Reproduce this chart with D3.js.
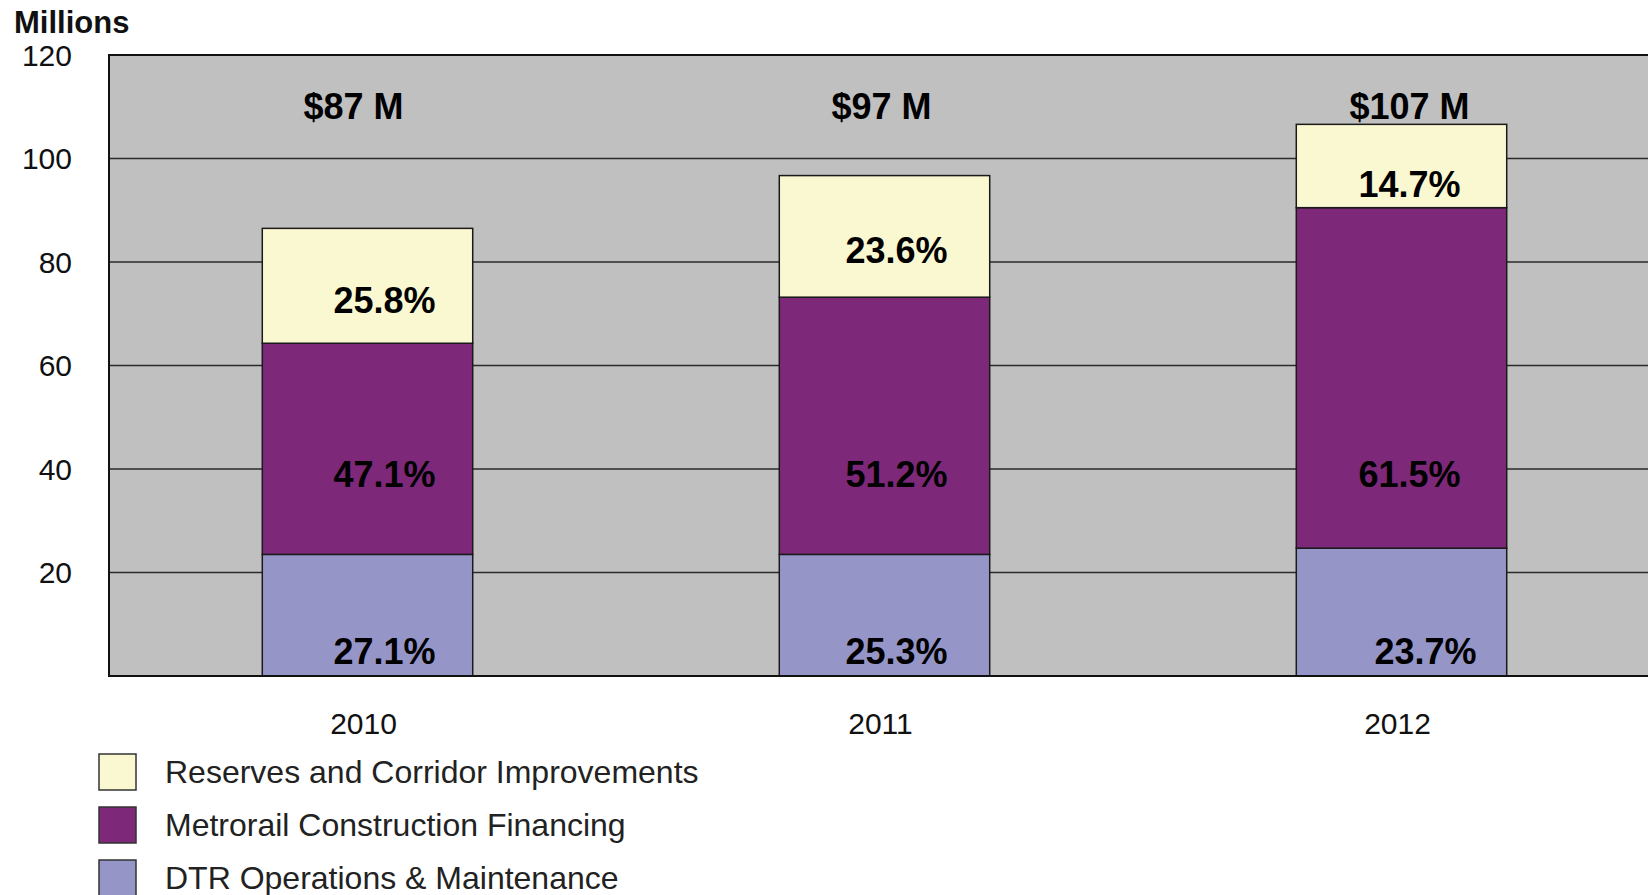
<!DOCTYPE html>
<html>
<head>
<meta charset="utf-8">
<script src="https://cdn.jsdelivr.net/npm/d3@7"></script>
<style>
  body { margin: 0; background: #ffffff; overflow: hidden; }
  svg { display: block; font-family: "Liberation Sans", Arial, sans-serif; }
</style>
</head>
<body>
<div id="chart"></div>
<script>
// Chart data (values in millions of dollars)
const years = ["2010", "2011", "2012"];
const seriesNames = ["DTR Operations & Maintenance", "Metrorail Construction Financing", "Reserves and Corridor Improvements"];
const dtrValues = [23.5, 23.5, 24.7];
const metroValues = [40.8, 49.7, 65.8];
const reserveValues = [22.2, 23.5, 16.1];
const totalLabels = ["$87 M", "$97 M", "$107 M"];
const dtrPct = ["27.1%", "25.3%", "23.7%"];
const metroPct = ["47.1%", "51.2%", "61.5%"];
const reservePct = ["25.8%", "23.6%", "14.7%"];
const yTicks = [20, 40, 60, 80, 100, 120];

const width = 1648;
const height = 895;
const plot = {left: 109, top: 55, right: 1660, bottom: 676};

const colors = ["#9595c8", "#7d2879", "#faf8d0"];

const svg = d3.select("#chart")
    .append("svg")
    .attr("width", width)
    .attr("height", height);

// Scales: one band per year, bars centred in each band
const x = d3.scaleBand()
    .domain(years)
    .range([plot.left, plot.right])
    .paddingInner(0.593)
    .paddingOuter(0.2965);

const y = d3.scaleLinear()
    .domain([0, 120])
    .range([plot.bottom, plot.top]);

// Grey plot background
svg.append("rect")
    .attr("x", plot.left)
    .attr("y", plot.top)
    .attr("width", plot.right - plot.left)
    .attr("height", plot.bottom - plot.top)
    .attr("fill", "#c0c0c0");

// Horizontal gridlines
svg.append("g")
    .selectAll("line")
    .data(yTicks.slice(0, -1))
    .enter()
    .append("line")
    .attr("x1", plot.left)
    .attr("x2", plot.right)
    .attr("y1", d => y(d))
    .attr("y2", d => y(d))
    .attr("stroke", "#2a2a2a")
    .attr("stroke-width", 1.5);

// Stack the three series
const table = years.map((yr, i) => ({
    year: yr,
    dtr: dtrValues[i],
    metro: metroValues[i],
    reserves: reserveValues[i]
}));
const stack = d3.stack().keys(["dtr", "metro", "reserves"]);
const layers = stack(table);

svg.append("g")
    .selectAll("g")
    .data(layers)
    .enter()
    .append("g")
    .attr("fill", (d, i) => colors[i])
    .selectAll("rect")
    .data(d => d)
    .enter()
    .append("rect")
    .attr("x", d => x(d.data.year))
    .attr("width", x.bandwidth())
    .attr("y", d => y(d[1]))
    .attr("height", d => y(d[0]) - y(d[1]))
    .attr("stroke", "#1a1a1a")
    .attr("stroke-width", 1.5);

// Plot frame (left, top, bottom)
svg.append("path")
    .attr("d", `M${plot.right},${plot.top}H${plot.left}V${plot.bottom}H${plot.right}`)
    .attr("fill", "none")
    .attr("stroke", "#111")
    .attr("stroke-width", 2);

// Y tick labels (no label at zero)
svg.append("g")
    .selectAll("text")
    .data(yTicks)
    .enter()
    .append("text")
    .attr("x", 72)
    .attr("y", d => y(d))
    .attr("dy", "0.36em")
    .attr("text-anchor", "end")
    .style("font-size", "30px")
    .attr("fill", "#111")
    .text(d => d);

svg.append("text")
    .attr("x", 14)
    .attr("y", 33)
    .style("font-size", "31px")
    .style("font-weight", "bold")
    .attr("fill", "#111")
    .text("Millions");

// Year labels under the bars
svg.append("g")
    .selectAll("text")
    .data(years)
    .enter()
    .append("text")
    .attr("x", d => x(d) + x.bandwidth() / 2 - 4)
    .attr("y", 734)
    .attr("text-anchor", "middle")
    .style("font-size", "30px")
    .attr("fill", "#111")
    .text(d => d);

// Bold labels: the percentages sit a little right of centre, like the original
const totalShift = [-14, -3, 8];
const pctShift = [17, 12, 8];
const bold = svg.append("g")
    .style("font-size", "36px")
    .style("font-weight", "bold")
    .attr("fill", "#000")
    .attr("text-anchor", "middle");

years.forEach((yr, i) => {
    const cx = x(yr) + x.bandwidth() / 2;
    const top = dtrValues[i] + metroValues[i];
    const total = top + reserveValues[i];

    bold.append("text")
        .attr("x", cx + totalShift[i])
        .attr("y", y(107.7))
        .text(totalLabels[i]);

    bold.append("text")
        .attr("x", cx + pctShift[i])
        .attr("y", y((top + total) / 2) + 27 + (i === 2 ? 4 : 0))
        .text(reservePct[i]);

    bold.append("text")
        .attr("x", cx + pctShift[i])
        .attr("y", y(0) - 189)
        .text(metroPct[i]);

    bold.append("text")
        .attr("x", cx + pctShift[i] + (i === 2 ? 16 : 0))
        .attr("y", y(0) - 12.5)
        .text(dtrPct[i]);
});

// Legend, top entry first
const legendItems = [2, 1, 0];
const legend = svg.append("g")
    .selectAll("g")
    .data(legendItems)
    .enter()
    .append("g")
    .attr("transform", (d, i) => `translate(99, ${754 + i * 53})`);

legend.append("rect")
    .attr("width", 37)
    .attr("height", 36)
    .attr("fill", d => colors[d])
    .attr("stroke", "#333")
    .attr("stroke-width", 1.5);

legend.append("text")
    .attr("x", 66)
    .attr("y", 29)
    .style("font-size", "32px")
    .attr("fill", "#222")
    .text(d => seriesNames[d]);
</script>
</body>
</html>
